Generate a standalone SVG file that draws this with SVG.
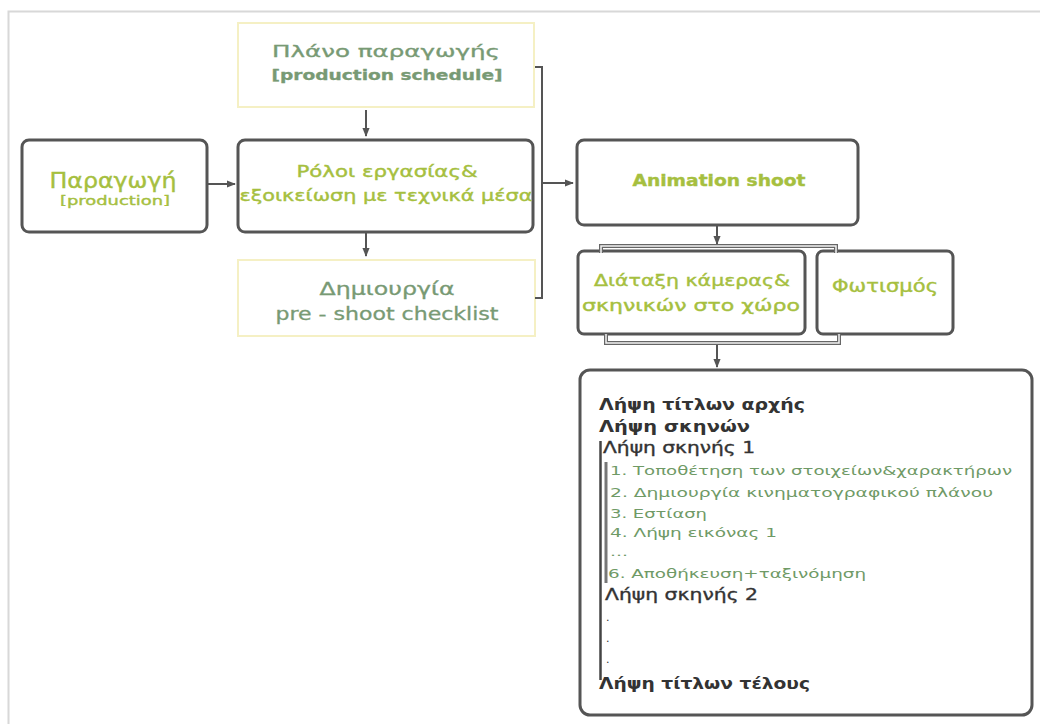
<svg xmlns="http://www.w3.org/2000/svg" width="1040" height="724" viewBox="0 0 1040 724">
<defs>
<marker id="ah" viewBox="0 0 10 10" refX="9" refY="5" markerWidth="4.5" markerHeight="4.5" orient="auto" markerUnits="strokeWidth">
<path d="M0,1 L10,5 L0,9 z" fill="#555"/>
</marker>
<style>
text{font-family:"DejaVu Sans","Liberation Sans",sans-serif;}
.dark{fill:none;stroke:#555;stroke-width:3;}
.light{fill:#fff;stroke:#f5f0c4;stroke-width:2;}
.yg{fill:#a6bf3f;stroke:#a6bf3f;stroke-width:0.4;}
.gg{fill:#789a74;stroke:#789a74;stroke-width:0.3;}
.tx{fill:#333;}
.txm{fill:#333;stroke:#333;stroke-width:0.35;}
.li{fill:#6f9a66;}
.conn{fill:none;stroke:#555;stroke-width:2;}
.dbl{fill:none;stroke:#666;stroke-width:4;}
.dbli{fill:none;stroke:#f4f4f4;stroke-width:1.5;}
</style>
</defs>
<rect width="1040" height="724" fill="#fff"/>
<path d="M8.5,724 V11.5 H1040" fill="none" stroke="#d8d8d8" stroke-width="2"/>

<g id="plano">
<rect class="light" x="238" y="23" width="296" height="84"/>
<text class="gg" x="386" y="57" font-size="15" text-anchor="middle" textLength="228" lengthAdjust="spacingAndGlyphs">Πλάνο παραγωγής</text>
<text class="gg" x="387" y="80" font-size="14" font-weight="bold" text-anchor="middle" textLength="231" lengthAdjust="spacingAndGlyphs">[production schedule]</text>
</g>

<g id="paragogi">
<rect class="dark" x="22" y="140" width="185" height="92" rx="7"/>
<text class="yg" x="113" y="188" font-size="21" text-anchor="middle" textLength="127" lengthAdjust="spacingAndGlyphs">Παραγωγή</text>
<text class="yg" x="115" y="205" font-size="13" text-anchor="middle" textLength="110" lengthAdjust="spacingAndGlyphs">[production]</text>
</g>

<g id="roloi">
<rect class="dark" x="238" y="140" width="295" height="92" rx="7"/>
<text class="yg" x="387" y="177" font-size="16" text-anchor="middle" textLength="181" lengthAdjust="spacingAndGlyphs">Ρόλοι εργασίας&amp;</text>
<text class="yg" x="386" y="201" font-size="16" text-anchor="middle" textLength="293" lengthAdjust="spacingAndGlyphs">εξοικείωση με τεχνικά μέσα</text>
</g>

<g id="dimiourgia">
<rect class="light" x="238" y="260" width="297" height="76"/>
<text class="gg" x="387" y="295" font-size="17" text-anchor="middle" textLength="135" lengthAdjust="spacingAndGlyphs">Δημιουργία</text>
<text class="gg" x="387" y="320" font-size="17" text-anchor="middle" textLength="223" lengthAdjust="spacingAndGlyphs">pre - shoot checklist</text>
</g>

<g id="animation">
<rect class="dark" x="577" y="140" width="281" height="85" rx="7"/>
<text class="yg" x="719" y="186" font-size="16" font-weight="bold" text-anchor="middle" textLength="173" lengthAdjust="spacingAndGlyphs">Animation shoot</text>
</g>

<g id="diataxi">
<rect class="dark" x="578" y="251" width="227" height="83" rx="6"/>
<text class="yg" x="692" y="286" font-size="16" text-anchor="middle" textLength="196" lengthAdjust="spacingAndGlyphs">Διάταξη κάμερας&amp;</text>
<text class="yg" x="691" y="311" font-size="16" text-anchor="middle" textLength="218" lengthAdjust="spacingAndGlyphs">σκηνικών στο χώρο</text>
</g>

<g id="fotismos">
<rect class="dark" x="817" y="251" width="136" height="83" rx="6"/>
<text class="yg" x="885" y="292" font-size="17" text-anchor="middle" textLength="106" lengthAdjust="spacingAndGlyphs">Φωτισμός</text>
</g>

<g id="lipsi">
<rect class="dark" x="580" y="370" width="452" height="345" rx="10"/>
<text class="tx" x="599" y="410" font-size="16" font-weight="bold" textLength="206" lengthAdjust="spacingAndGlyphs">Λήψη τίτλων αρχής</text>
<text class="tx" x="599" y="432" font-size="16" font-weight="bold" textLength="151" lengthAdjust="spacingAndGlyphs">Λήψη σκηνών</text>
<text class="txm" x="603" y="453" font-size="16" textLength="152" lengthAdjust="spacingAndGlyphs">Λήψη σκηνής 1</text>
<text class="li" x="610" y="475" font-size="13" textLength="402" lengthAdjust="spacingAndGlyphs">1. Τοποθέτηση των στοιχείων&amp;χαρακτήρων</text>
<text class="li" x="610" y="497" font-size="13" textLength="383" lengthAdjust="spacingAndGlyphs">2. Δημιουργία κινηματογραφικού πλάνου</text>
<text class="li" x="610" y="518" font-size="13" textLength="97" lengthAdjust="spacingAndGlyphs">3. Εστίαση</text>
<text class="li" x="610" y="537" font-size="13" textLength="167" lengthAdjust="spacingAndGlyphs">4. Λήψη εικόνας 1</text>
<text class="li" x="610" y="556" font-size="11" textLength="18" lengthAdjust="spacingAndGlyphs">...</text>
<text class="li" x="608" y="578" font-size="12" textLength="258" lengthAdjust="spacingAndGlyphs">6. Αποθήκευση+ταξινόμηση</text>
<text class="txm" x="605" y="600" font-size="16" textLength="153" lengthAdjust="spacingAndGlyphs">Λήψη σκηνής 2</text>
<text class="tx" x="606" y="621" font-size="11">.</text>
<text class="tx" x="606" y="642" font-size="11">.</text>
<text class="tx" x="606" y="663" font-size="11">.</text>
<text class="tx" x="599" y="689" font-size="16" font-weight="bold" textLength="211" lengthAdjust="spacingAndGlyphs">Λήψη τίτλων τέλους</text>
<path d="M600.5,441 V680" fill="none" stroke="#444" stroke-width="2.5"/>
<path d="M606,462 V583" fill="none" stroke="#777" stroke-width="3"/>
</g>

<g id="connectors">
<path class="conn" d="M366,110 V136" marker-end="url(#ah)"/>
<path class="conn" d="M366,233 V256" marker-end="url(#ah)"/>
<path class="conn" d="M208,184 H235" marker-end="url(#ah)"/>
<path class="conn" d="M535,67 H542 V298 H535"/>
<path class="conn" d="M542,183 H573" marker-end="url(#ah)"/>
<path class="conn" d="M717,226 V244" marker-end="url(#ah)"/>
<path class="dbl" d="M601,253 V246 H836 V253"/>
<path class="dbli" d="M601,253 V246 H836 V253"/>
<path class="dbl" d="M606,334 V343 H839 V334"/>
<path class="dbli" d="M606,334 V343 H839 V334"/>
<path class="conn" d="M717,345 V367" marker-end="url(#ah)"/>
</g>
</svg>
